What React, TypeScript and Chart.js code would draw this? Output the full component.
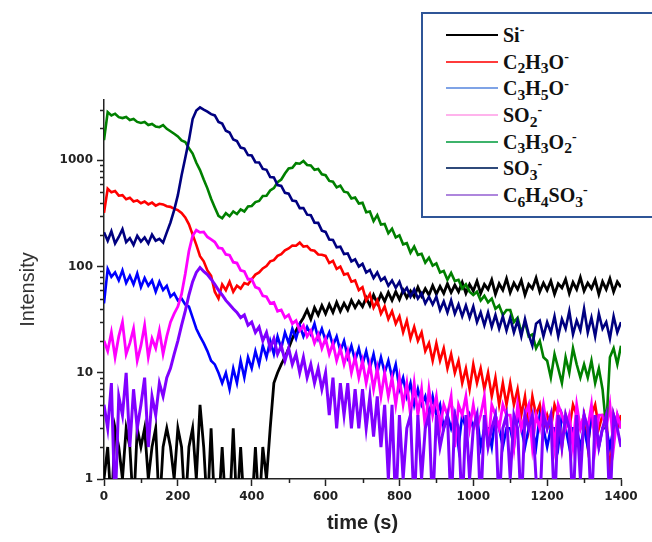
import React, { useEffect, useRef } from 'react';
import { Chart, registerables } from 'chart.js';

Chart.register(...registerables);

// time axis: one sample every 10 s from 0 to 1400 s
const times: number[] = Array.from({ length: 141 }, (_, i) => i * 10);

// values (0.5 = count dropped below the axis)
const siMinus = [
  1, 2, 0.5, 3, 2, 1, 3, 2, 0.5, 3,
  2, 3, 1, 2, 3, 0.5, 2, 3, 2, 1,
  3, 2, 0.5, 2, 3, 1, 5, 2, 0.5, 3,
  0.5, 0.5, 2, 0.5, 0.5, 3, 0.5, 2, 0.5, 0.5,
  0.5, 2, 0.5, 2, 1, 3, 8, 10, 12, 14,
  17, 21, 25, 29, 33, 39, 32, 41, 35, 43,
  36, 44, 37, 46, 38, 45, 39, 48, 41, 47,
  42, 51, 43, 54, 45, 55, 47, 57, 48, 58,
  49, 60, 51, 59, 52, 64, 53, 62, 54, 66,
  55, 65, 56, 69, 57, 67, 58, 71, 56, 68,
  59, 73, 56, 68, 61, 75, 55, 69, 60, 77,
  57, 70, 61, 74, 54, 68, 62, 78, 58, 70,
  60, 73, 55, 69, 63, 76, 56, 71, 61, 79,
  59, 70, 62, 75, 55, 72, 61, 77, 58, 72,
  64,
];

const c2h3o = [
  320, 540, 500, 515, 465, 470, 430, 445, 410, 420,
  395, 410, 385, 400, 375, 390, 385, 370, 365, 350,
  340, 320, 290, 250, 200, 160, 125, 112, 92, 82,
  58, 50, 68, 60, 72, 58, 66, 62, 70, 68,
  76, 84, 88, 96, 101, 112, 115, 126, 131, 142,
  148, 158, 157, 168, 154, 156, 143, 141, 130, 129,
  126, 108, 113, 95, 100, 84, 86, 72, 74, 60,
  64, 48, 55, 41, 48, 36, 42, 32, 38, 29,
  34, 24, 31, 21, 27, 20, 24, 16, 19, 13,
  19, 13, 17, 11, 15, 10, 13, 8, 11, 7,
  12, 8, 11, 7, 10, 6, 9, 5, 8, 5,
  8, 5, 7, 4, 6, 3, 6, 4, 5, 3,
  4, 3, 5, 4, 2, 4, 3, 5, 4, 3,
  4, 2, 4, 5, 3, 4, 4, 1, 4, 3,
  4,
];

const c3h5o = [
  45, 95, 80, 88, 74, 92, 70, 82, 68, 86,
  64, 78, 66, 74, 58, 72, 60, 66, 52, 56,
  48, 50, 44, 42, 33, 26, 22, 19, 16, 13,
  12, 10, 8, 10, 7, 11, 8, 13, 9, 14,
  11, 16, 12, 18, 14, 20, 15, 22, 17, 24,
  19, 26, 21, 28, 22, 27, 23, 29, 21, 26,
  20, 24, 18, 22, 16, 20, 14, 18, 13, 17,
  12, 16, 11, 15, 10, 14, 10, 13, 9, 12,
  7, 9, 6, 8, 5, 7, 5, 6, 4, 6,
  4, 5, 3, 4, 3, 4, 2, 4, 3, 4,
  3, 4, 2, 3, 3, 2, 4, 3, 2, 3,
  3, 2, 4, 3, 2, 3, 3, 2, 4, 3,
  2, 3, 3, 2, 4, 3, 2, 3, 3, 2,
  3, 2, 4, 3, 2, 3, 3, 2, 3, 4,
  3,
];

const so2 = [
  20, 16, 24, 14, 22, 30, 15, 19, 26, 13,
  18, 28, 14, 21, 17, 25, 15, 22, 30, 36,
  42, 55, 85, 140, 195, 220, 210, 212, 190, 180,
  170, 150, 148, 130, 128, 110, 108, 92, 90, 76,
  76, 64, 62, 53, 52, 45, 46, 38, 39, 33,
  35, 29, 31, 25, 28, 22, 25, 19, 23, 17,
  21, 15, 19, 13, 17, 12, 16, 10, 14, 9,
  13, 8, 12, 7, 11, 6, 10, 6, 9, 5,
  9, 5, 8, 4, 8, 4, 7, 3, 7, 4,
  6, 3, 5, 4, 6, 2, 5, 4, 6, 3,
  5, 3, 4, 6, 2, 5, 4, 3, 5, 4,
  4, 2, 5, 3, 4, 5, 2, 4, 3, 5,
  3, 4, 2, 5, 4, 3, 4, 2, 5, 3,
  4, 3, 5, 2, 4, 4, 3, 5, 2, 4,
  3,
];

const c3h3o2 = [
  1550, 2850, 2650, 2750, 2550, 2500, 2560, 2400, 2450, 2300,
  2250, 2300, 2150, 2200, 2080, 2050, 2150, 1980, 1880, 1780,
  1680, 1540, 1490, 1300, 1160, 950, 810, 660, 545, 435,
  360, 300, 285, 318, 298, 330, 312, 345, 330, 368,
  372, 405, 415, 462, 465, 520, 548, 622, 660, 752,
  838, 850, 940, 930, 985, 905, 895, 815, 830, 740,
  725, 640, 629, 556, 578, 507, 497, 437, 447, 392,
  398, 324, 330, 268, 305, 249, 252, 206, 227, 188,
  197, 162, 166, 135, 154, 129, 132, 109, 121, 102,
  107, 88, 91, 75, 87, 73, 75, 62, 68, 58,
  54, 58, 48, 53, 46, 50, 40, 43, 35, 39,
  39, 30, 33, 24, 30, 22, 23, 17, 20, 14,
  13, 9, 15, 11, 8, 14, 10, 17, 12, 9,
  12, 9, 13, 8, 11, 7, 3, 14, 17, 12,
  18,
];

const so3 = [
  210, 175, 215, 165, 190, 225, 170, 185, 160, 195,
  172, 188, 165, 200, 175, 182, 168, 210, 260, 340,
  470, 720, 1050, 1550, 2450, 2950, 3150, 3000, 2870, 2720,
  2650, 2300, 2220, 1900, 1830, 1570, 1520, 1320, 1290, 1120,
  1110, 960, 955, 830, 815, 695, 690, 585, 575, 495,
  485, 418, 412, 355, 356, 308, 304, 259, 258, 218,
  212, 180, 178, 152, 154, 131, 133, 112, 117, 100,
  106, 88, 93, 78, 88, 74, 79, 66, 74, 63,
  72, 57, 63, 52, 61, 50, 56, 45, 52, 44,
  52, 39, 47, 37, 48, 36, 44, 34, 43, 33,
  42, 30, 37, 28, 37, 27, 35, 26, 34, 25,
  33, 24, 31, 22, 32, 23, 18, 29, 31, 22,
  30, 24, 34, 22, 32, 26, 38, 23, 31, 25,
  40, 24, 33, 22, 36, 26, 30, 21, 34, 24,
  30,
];

const c6h4so3 = [
  5, 3, 8, 0.5, 6, 4, 10, 2, 7, 3,
  5, 9, 2, 6, 4, 8, 6, 9, 11, 15,
  20, 28, 38, 54, 72, 88, 98, 90, 84, 76,
  68, 60, 54, 48, 44, 40, 37, 33, 35, 28,
  30, 24, 27, 20, 24, 17, 21, 15, 18, 13,
  17, 12, 15, 10, 14, 9, 12, 8, 11, 7,
  10, 4, 9, 3, 8, 4, 8, 3, 7, 3,
  7, 3, 6, 2.5, 6, 2, 5, 1, 5, 0.5,
  4, 1, 3, 4, 0.5, 4, 1, 3, 4, 0.5,
  4, 2, 3, 4, 0.5, 4, 3, 0.5, 4, 1,
  3, 4, 0.5, 4, 2, 3, 4, 0.5, 3, 4,
  1, 4, 3, 0.5, 4, 3, 4, 1, 0.5, 4,
  3, 4, 0.5, 4, 2, 4, 3, 0.5, 4, 1,
  4, 3, 0.5, 4, 2, 3, 4, 0.5, 4, 3,
  2,
];

const seriesValues = [siMinus, c2h3o, c3h5o, so2, c3h3o2, so3, c6h4so3];
const seriesNames = ['Si-', 'C2H3O-', 'C3H5O-', 'SO2-', 'C3H3O2-', 'SO3-', 'C6H4SO3-'];
const seriesColors = ['#000000', '#FF0000', '#0000FF', '#FF00FF', '#008000', '#000080', '#8000FF'];
const seriesWidths = [2.8, 2.6, 2.6, 2.8, 2.6, 2.6, 3.0];
const legendLineColors = ['#000000', '#FF3B3B', '#7FA3E6', '#FFB3EC', '#3DB36B', '#2F4A7A', '#AE86DD'];

// legend labels: [text, kind] pieces (n = normal, sub = subscript, sup = superscript)
type Piece = [string, 'n' | 'sub' | 'sup'];
const legendLabels: Piece[][] = [
  [['Si', 'n'], ['-', 'sup']],
  [['C', 'n'], ['2', 'sub'], ['H', 'n'], ['3', 'sub'], ['O', 'n'], ['-', 'sup']],
  [['C', 'n'], ['3', 'sub'], ['H', 'n'], ['5', 'sub'], ['O', 'n'], ['-', 'sup']],
  [['SO', 'n'], ['2', 'sub'], ['-', 'sup']],
  [['C', 'n'], ['3', 'sub'], ['H', 'n'], ['3', 'sub'], ['O', 'n'], ['2', 'sub'], ['-', 'sup']],
  [['SO', 'n'], ['3', 'sub'], ['-', 'sup']],
  [['C', 'n'], ['6', 'sub'], ['H', 'n'], ['4', 'sub'], ['SO', 'n'], ['3', 'sub'], ['-', 'sup']],
];

const xTicks = [0, 200, 400, 600, 800, 1000, 1200, 1400];
const xMinorTicks = [100, 300, 500, 700, 900, 1100, 1300];
const yTicks = [1, 10, 100, 1000];
const yMinorTicks = [
  2, 3, 4, 5, 6, 7, 8, 9,
  20, 30, 40, 50, 60, 70, 80, 90,
  200, 300, 400, 500, 600, 700, 800, 900,
  2000, 3000,
];

const AXIS_COLOR = '#222222';

const minorTicksPlugin = {
  id: 'minorTicks',
  afterDraw(chart: any) {
    const { ctx, chartArea } = chart;
    const xs = chart.scales.x;
    const ys = chart.scales.y;
    ctx.save();
    ctx.strokeStyle = AXIS_COLOR;
    ctx.lineWidth = 1.5;
    ctx.beginPath();
    for (const v of xMinorTicks) {
      const px = Math.round(xs.getPixelForValue(v)) + 0.5;
      ctx.moveTo(px, chartArea.bottom);
      ctx.lineTo(px, chartArea.bottom + 4);
    }
    for (const v of yMinorTicks) {
      const py = Math.round(ys.getPixelForValue(v)) + 0.5;
      ctx.moveTo(chartArea.left - 4, py);
      ctx.lineTo(chartArea.left, py);
    }
    ctx.stroke();
    ctx.restore();
  },
};

function LegendText({ pieces }: { pieces: Piece[] }) {
  return (
    <>
      {pieces.map(([text, kind], k) => {
        if (kind === 'sub')
          return (
            <span key={k} style={{ fontSize: '78%', position: 'relative', top: '0.3em' }}>
              {text}
            </span>
          );
        if (kind === 'sup')
          return (
            <span key={k} style={{ fontSize: '70%', position: 'relative', top: '-0.55em' }}>
              {text}
            </span>
          );
        return <span key={k}>{text}</span>;
      })}
    </>
  );
}

export default function App() {
  const canvasRef = useRef<HTMLCanvasElement | null>(null);

  useEffect(() => {
    if (!canvasRef.current) return;
    const chart = new Chart(canvasRef.current, {
      type: 'line',
      data: {
        datasets: seriesValues.map((vals, i) => ({
          label: seriesNames[i],
          data: times.map((t, j) => ({ x: t, y: vals[j] })),
          borderColor: seriesColors[i],
          backgroundColor: seriesColors[i],
          borderWidth: seriesWidths[i],
          pointRadius: 0,
          tension: 0,
          fill: false,
          order: seriesValues.length - 1 - i,
        })),
      },
      options: {
        animation: false,
        responsive: false,
        maintainAspectRatio: false,
        layout: { padding: { top: 100, right: 31, left: 0, bottom: 0 } },
        plugins: {
          legend: { display: false },
          tooltip: { enabled: false },
        },
        scales: {
          x: {
            type: 'linear',
            min: 0,
            max: 1400,
            afterBuildTicks: (s: any) => {
              s.ticks = xTicks.map((v) => ({ value: v }));
            },
            afterFit: (s: any) => {
              s.height = 63;
            },
            grid: {
              drawOnChartArea: false,
              drawTicks: true,
              tickLength: 7,
              tickColor: AXIS_COLOR,
              tickWidth: 1.5,
            },
            border: { color: AXIS_COLOR, width: 1.5 },
            ticks: {
              color: AXIS_COLOR,
              padding: 4,
              maxRotation: 0,
              autoSkip: false,
              font: { family: 'DejaVu Sans', weight: 'bold', size: 12 },
              callback: (v: any) => String(v),
            },
            title: {
              display: true,
              text: 'time (s)',
              color: AXIS_COLOR,
              font: { family: 'Liberation Sans', weight: 'bold', size: 20 },
              padding: { top: 0, bottom: 7 },
            },
          },
          y: {
            type: 'logarithmic',
            min: 1,
            max: 3700,
            afterBuildTicks: (s: any) => {
              s.ticks = yTicks.map((v) => ({ value: v }));
            },
            afterFit: (s: any) => {
              s.width = 104;
            },
            grid: {
              drawOnChartArea: false,
              drawTicks: true,
              tickLength: 7,
              tickColor: AXIS_COLOR,
              tickWidth: 1.5,
            },
            border: { color: AXIS_COLOR, width: 1.5 },
            ticks: {
              color: AXIS_COLOR,
              padding: 4,
              autoSkip: false,
              font: { family: 'DejaVu Sans', weight: 'bold', size: 12 },
              callback: (v: any) => String(v),
            },
            title: {
              display: true,
              text: 'Intensity',
              color: '#333333',
              font: { family: 'Liberation Sans', size: 20 },
              padding: { top: 16, bottom: 0 },
            },
          },
        },
      } as any,
      plugins: [minorTicksPlugin],
    });
    return () => chart.destroy();
  }, []);

  return (
    <div
      style={{
        position: 'absolute',
        left: 0,
        top: 0,
        width: 652,
        height: 542,
        overflow: 'hidden',
        background: '#ffffff',
      }}
    >
      <canvas ref={canvasRef} width={652} height={542} style={{ display: 'block' }} />
      <div
        style={{
          position: 'absolute',
          left: 421,
          top: 12,
          width: 250,
          height: 202,
          border: '2px solid #2F5597',
          background: '#ffffff',
        }}
      />
      {legendLabels.map((pieces, i) => {
        const cy = 35 + i * 26.65;
        return (
          <React.Fragment key={i}>
            <div
              style={{
                position: 'absolute',
                left: 446,
                top: cy - 1,
                width: 52,
                height: 2,
                background: legendLineColors[i],
              }}
            />
            <div
              style={{
                position: 'absolute',
                left: 503,
                top: cy - 12,
                height: 24,
                lineHeight: '24px',
                fontFamily: '"Liberation Serif", "Times New Roman", serif',
                fontWeight: 'bold',
                fontSize: 20,
                color: '#111111',
                whiteSpace: 'nowrap',
              }}
            >
              <LegendText pieces={pieces} />
            </div>
          </React.Fragment>
        );
      })}
    </div>
  );
}
